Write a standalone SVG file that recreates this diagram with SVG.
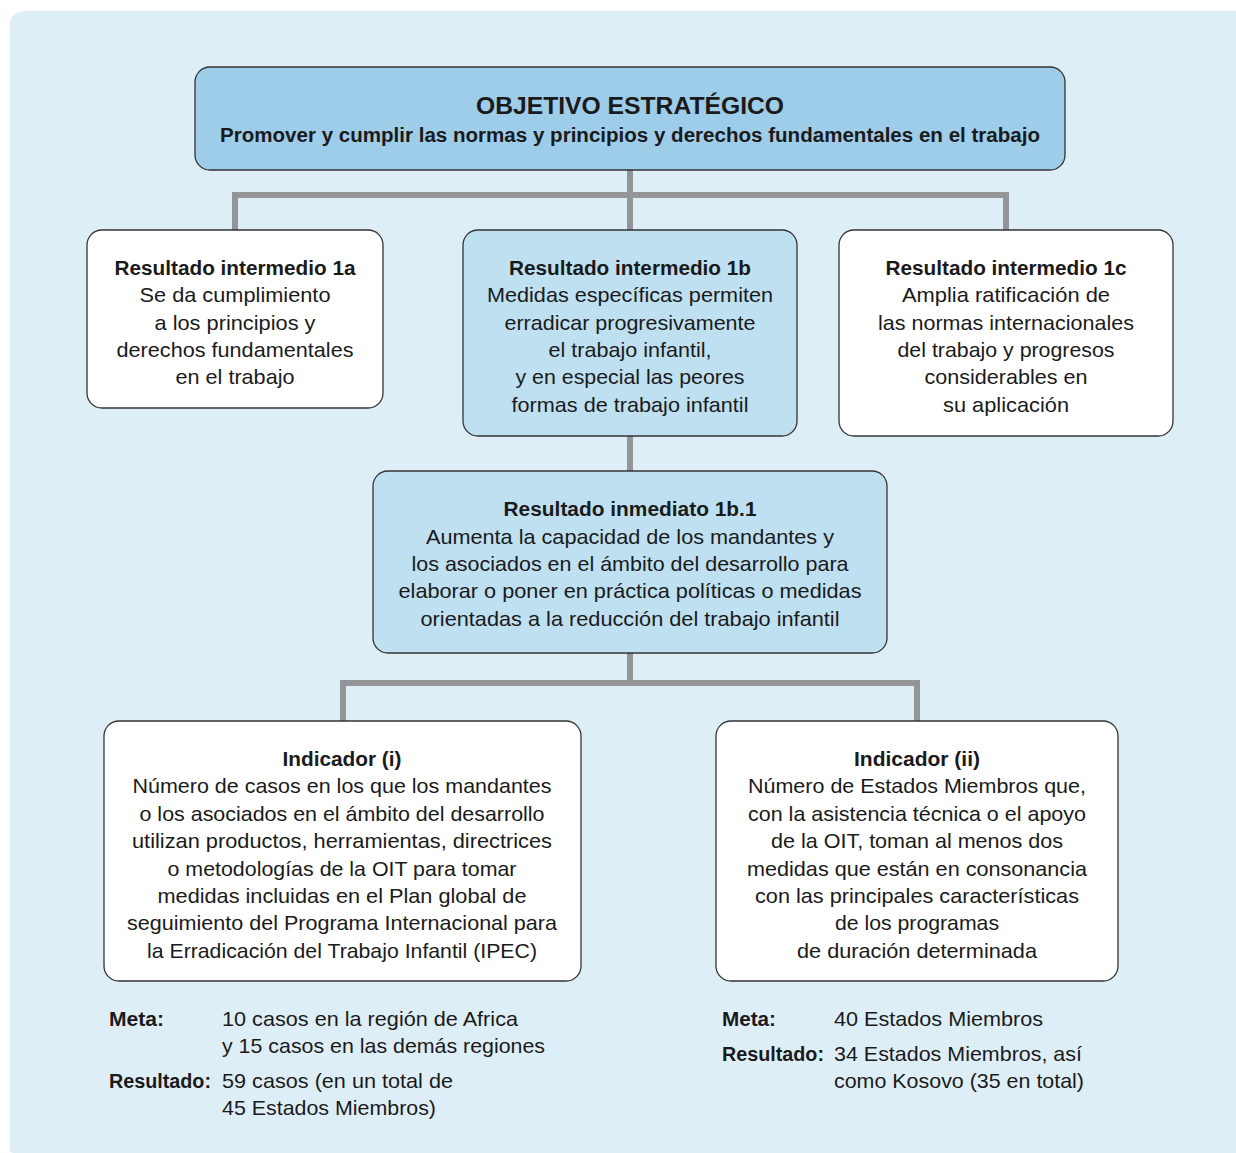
<svg xmlns="http://www.w3.org/2000/svg" width="1236" height="1153" viewBox="0 0 1236 1153">
<style>
.bg{fill:#deeef7}
.box{stroke:#333;stroke-width:1.3}
.w{fill:#ffffff}
.b1{fill:#bee0f1}
.b0{fill:#9dcde9}
.con{fill:none;stroke:#939598;stroke-width:6;stroke-linejoin:miter}
text{font-family:"Liberation Sans",Arial,sans-serif;fill:#1a1a1a;font-size:21px}
.c{text-anchor:middle}
.h{font-weight:bold;font-size:20px}
.t{font-weight:bold;font-size:24px}
</style>
<path class="bg" d="M10 26 Q10 11 25 11 H1236 V1153 H14 Q10 1153 10 1149 Z"/>
<g id="connectors">
<path class="con" d="M630 170 V230"/>
<path class="con" d="M235 230 V195 H1006 V230"/>
<path class="con" d="M630 436 V471"/>
<path class="con" d="M630 653 V683"/>
<path class="con" d="M343 721 V683 H917 V721"/>
</g>
<g id="objetivo">
<rect class="box b0" x="195" y="67" width="870" height="103" rx="15"/>
<text class="c t" x="630" y="114" textLength="308" lengthAdjust="spacingAndGlyphs">OBJETIVO ESTRATÉGICO</text>
<text class="c h" x="630" y="142" textLength="820" lengthAdjust="spacingAndGlyphs">Promover y cumplir las normas y principios y derechos fundamentales en el trabajo</text>
</g>
<g id="r1a">
<rect class="box w" x="87" y="230" width="296" height="178" rx="15"/>
<text class="c h" x="235" y="275" textLength="241" lengthAdjust="spacingAndGlyphs">Resultado intermedio 1a</text>
<text class="c" x="235" y="302" textLength="191" lengthAdjust="spacingAndGlyphs">Se da cumplimiento</text>
<text class="c" x="235" y="330" textLength="161" lengthAdjust="spacingAndGlyphs">a los principios y</text>
<text class="c" x="235" y="357" textLength="237" lengthAdjust="spacingAndGlyphs">derechos fundamentales</text>
<text class="c" x="235" y="384" textLength="119" lengthAdjust="spacingAndGlyphs">en el trabajo</text>
</g>
<g id="r1b">
<rect class="box b1" x="463" y="230" width="334" height="206" rx="15"/>
<text class="c h" x="630" y="275" textLength="242" lengthAdjust="spacingAndGlyphs">Resultado intermedio 1b</text>
<text class="c" x="630" y="302" textLength="286" lengthAdjust="spacingAndGlyphs">Medidas específicas permiten</text>
<text class="c" x="630" y="330" textLength="251" lengthAdjust="spacingAndGlyphs">erradicar progresivamente</text>
<text class="c" x="630" y="357" textLength="163" lengthAdjust="spacingAndGlyphs">el trabajo infantil,</text>
<text class="c" x="630" y="384" textLength="229" lengthAdjust="spacingAndGlyphs">y en especial las peores</text>
<text class="c" x="630" y="412" textLength="237" lengthAdjust="spacingAndGlyphs">formas de trabajo infantil</text>
</g>
<g id="r1c">
<rect class="box w" x="839" y="230" width="334" height="206" rx="15"/>
<text class="c h" x="1006" y="275" textLength="241" lengthAdjust="spacingAndGlyphs">Resultado intermedio 1c</text>
<text class="c" x="1006" y="302" textLength="208" lengthAdjust="spacingAndGlyphs">Amplia ratificación de</text>
<text class="c" x="1006" y="330" textLength="256" lengthAdjust="spacingAndGlyphs">las normas internacionales</text>
<text class="c" x="1006" y="357" textLength="217" lengthAdjust="spacingAndGlyphs">del trabajo y progresos</text>
<text class="c" x="1006" y="384" textLength="163" lengthAdjust="spacingAndGlyphs">considerables en</text>
<text class="c" x="1006" y="412" textLength="126" lengthAdjust="spacingAndGlyphs">su aplicación</text>
</g>
<g id="r1b1">
<rect class="box b1" x="373" y="471" width="514" height="182" rx="15"/>
<text class="c h" x="630" y="516" textLength="253" lengthAdjust="spacingAndGlyphs">Resultado inmediato 1b.1</text>
<text class="c" x="630" y="544" textLength="408" lengthAdjust="spacingAndGlyphs">Aumenta la capacidad de los mandantes y</text>
<text class="c" x="630" y="571" textLength="437" lengthAdjust="spacingAndGlyphs">los asociados en el ámbito del desarrollo para</text>
<text class="c" x="630" y="598" textLength="463" lengthAdjust="spacingAndGlyphs">elaborar o poner en práctica políticas o medidas</text>
<text class="c" x="630" y="626" textLength="419" lengthAdjust="spacingAndGlyphs">orientadas a la reducción del trabajo infantil</text>
</g>
<g id="ind1">
<rect class="box w" x="104" y="721" width="477" height="260" rx="15"/>
<text class="c h" x="342" y="766" textLength="119" lengthAdjust="spacingAndGlyphs">Indicador (i)</text>
<text class="c" x="342" y="793" textLength="419" lengthAdjust="spacingAndGlyphs">Número de casos en los que los mandantes</text>
<text class="c" x="342" y="821" textLength="405" lengthAdjust="spacingAndGlyphs">o los asociados en el ámbito del desarrollo</text>
<text class="c" x="342" y="848" textLength="420" lengthAdjust="spacingAndGlyphs">utilizan productos, herramientas, directrices</text>
<text class="c" x="342" y="876" textLength="349" lengthAdjust="spacingAndGlyphs">o metodologías de la OIT para tomar</text>
<text class="c" x="342" y="903" textLength="369" lengthAdjust="spacingAndGlyphs">medidas incluidas en el Plan global de</text>
<text class="c" x="342" y="930" textLength="430" lengthAdjust="spacingAndGlyphs">seguimiento del Programa Internacional para</text>
<text class="c" x="342" y="958" textLength="390" lengthAdjust="spacingAndGlyphs">la Erradicación del Trabajo Infantil (IPEC)</text>
</g>
<g id="ind2">
<rect class="box w" x="716" y="721" width="402" height="260" rx="15"/>
<text class="c h" x="917" y="766" textLength="126" lengthAdjust="spacingAndGlyphs">Indicador (ii)</text>
<text class="c" x="917" y="793" textLength="338" lengthAdjust="spacingAndGlyphs">Número de Estados Miembros que,</text>
<text class="c" x="917" y="821" textLength="338" lengthAdjust="spacingAndGlyphs">con la asistencia técnica o el apoyo</text>
<text class="c" x="917" y="848" textLength="292" lengthAdjust="spacingAndGlyphs">de la OIT, toman al menos dos</text>
<text class="c" x="917" y="876" textLength="340" lengthAdjust="spacingAndGlyphs">medidas que están en consonancia</text>
<text class="c" x="917" y="903" textLength="324" lengthAdjust="spacingAndGlyphs">con las principales características</text>
<text class="c" x="917" y="930" textLength="164" lengthAdjust="spacingAndGlyphs">de los programas</text>
<text class="c" x="917" y="958" textLength="240" lengthAdjust="spacingAndGlyphs">de duración determinada</text>
</g>
<g id="meta1">
<text class="h" x="109" y="1026" textLength="55" lengthAdjust="spacingAndGlyphs">Meta:</text>
<text x="222" y="1026" textLength="296" lengthAdjust="spacingAndGlyphs">10 casos en la región de Africa</text>
<text x="222" y="1053" textLength="323" lengthAdjust="spacingAndGlyphs">y 15 casos en las demás regiones</text>
<text class="h" x="109" y="1088" textLength="102" lengthAdjust="spacingAndGlyphs">Resultado:</text>
<text x="222" y="1088" textLength="231" lengthAdjust="spacingAndGlyphs">59 casos (en un total de</text>
<text x="222" y="1115" textLength="214" lengthAdjust="spacingAndGlyphs">45 Estados Miembros)</text>
</g>
<g id="meta2">
<text class="h" x="722" y="1026" textLength="54" lengthAdjust="spacingAndGlyphs">Meta:</text>
<text x="834" y="1026" textLength="209" lengthAdjust="spacingAndGlyphs">40 Estados Miembros</text>
<text class="h" x="722" y="1061" textLength="102" lengthAdjust="spacingAndGlyphs">Resultado:</text>
<text x="834" y="1061" textLength="248" lengthAdjust="spacingAndGlyphs">34 Estados Miembros, así</text>
<text x="834" y="1088" textLength="250" lengthAdjust="spacingAndGlyphs">como Kosovo (35 en total)</text>
</g>
</svg>
